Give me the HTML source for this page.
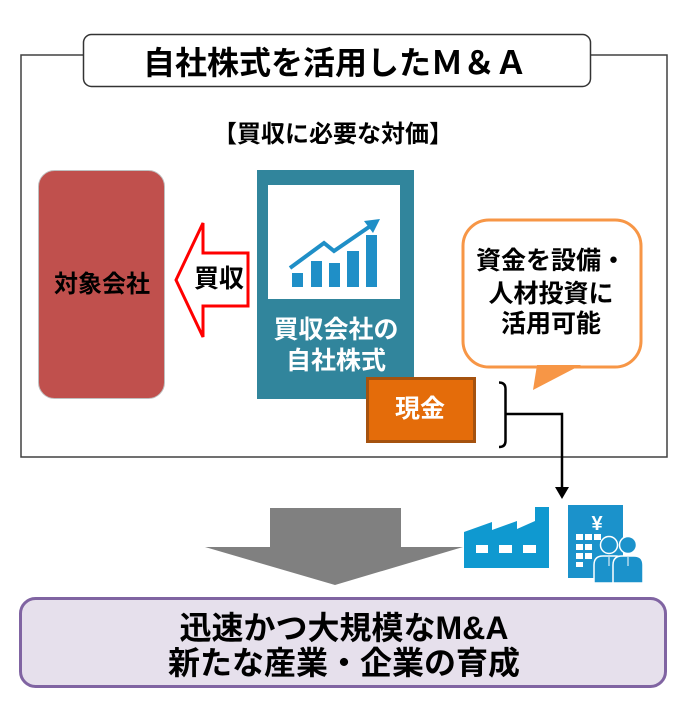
<!DOCTYPE html>
<html>
<head>
<meta charset="utf-8">
<style>
  html,body{margin:0;padding:0;background:#fff;}
  svg{display:block;}
  text{font-family:"Liberation Sans","Noto Sans CJK JP",sans-serif;font-weight:bold;}
</style>
</head>
<body>
<svg width="699" height="726" viewBox="0 0 699 726" xmlns="http://www.w3.org/2000/svg">
  <rect x="0" y="0" width="699" height="726" fill="#fff"/>

  <!-- outer frame -->
  <rect x="21" y="55" width="646" height="402" fill="none" stroke="#404040" stroke-width="1.5"/>

  <!-- title box -->
  <rect x="83.5" y="34.5" width="507" height="52" rx="8" ry="8" fill="#fff" stroke="#333" stroke-width="1.5"/>
  <text x="335" y="74" font-size="32" text-anchor="middle" fill="#000">自社株式を活用したＭ＆Ａ</text>

  <!-- subtitle -->
  <text x="333" y="142" font-size="24" text-anchor="middle" fill="#000">【買収に必要な対価】</text>

  <!-- target company -->
  <rect x="38.5" y="170.5" width="126" height="228" rx="16" ry="16" fill="#c0504d" stroke="#bfbfbf" stroke-width="1"/>
  <text x="102" y="292" font-size="24" text-anchor="middle" fill="#000">対象会社</text>

  <!-- red outlined arrow -->
  <polygon points="176,280 203,223 203,253 248,253 248,306 203,306 203,337" fill="#fff" stroke="#ff0000" stroke-width="3" stroke-linejoin="miter"/>
  <text x="219" y="287" font-size="25" text-anchor="middle" fill="#000">買収</text>

  <!-- teal acquirer box -->
  <rect x="257" y="170" width="157" height="229" fill="#31859c"/>
  <rect x="268" y="185" width="132" height="114" fill="#fff"/>
  <!-- chart icon -->
  <g fill="#1f8fc7">
    <rect x="292" y="273" width="11" height="14"/>
    <rect x="311" y="261" width="11" height="26"/>
    <rect x="329" y="263" width="11" height="24"/>
    <rect x="347" y="251" width="12" height="36"/>
    <rect x="366" y="235" width="11" height="52"/>
  </g>
  <polyline points="290,268 324,243 334,251 369,227" fill="none" stroke="#1f8fc7" stroke-width="4" stroke-linejoin="miter"/>
  <polygon points="380,219 373,233 364,221" fill="#1f8fc7"/>
  <text x="336" y="338" font-size="25" text-anchor="middle" fill="#fff">買収会社の</text>
  <text x="336" y="369" font-size="25" text-anchor="middle" fill="#fff">自社株式</text>

  <!-- cash box -->
  <rect x="367.5" y="378.5" width="107" height="63" fill="#e46c0a" stroke="#a5520f" stroke-width="3"/>
  <text x="420" y="417" font-size="25" text-anchor="middle" fill="#fff">現金</text>

  <!-- speech bubble -->
  <rect x="463" y="220" width="178" height="147" rx="26" ry="26" fill="#fff" stroke="#f79646" stroke-width="3"/>
  <polygon points="537,365 581,365 533,390" fill="#f79646"/>
  <text x="551" y="269" font-size="25" text-anchor="middle" fill="#000">資金を設備・</text>
  <text x="551" y="302" font-size="25" text-anchor="middle" fill="#000">人材投資に</text>
  <text x="551" y="332" font-size="25" text-anchor="middle" fill="#000">活用可能</text>

  <!-- bracket & connector -->
  <path d="M499,382.5 Q505.5,382.5 505.5,389 V441 Q505.5,447 499,447" fill="none" stroke="#000" stroke-width="2.5"/>
  <path d="M505.5,414 H562 V489" fill="none" stroke="#000" stroke-width="2.5"/>
  <polygon points="555,487 569,487 562,499" fill="#000"/>

  <!-- big gray arrow -->
  <polygon points="270,508 401,508 401,547 463,547 335,585 205,547 270,547" fill="#808080"/>

  <!-- factory icon -->
  <polygon points="464,568 464,532 492,522 492,530 517,521 517,529 535,521 535,507 549,507 549,568" fill="#0f99d0"/>
  <g fill="#fff">
    <rect x="476" y="545" width="12" height="8"/>
    <rect x="499" y="545" width="13" height="8"/>
    <rect x="523" y="545" width="13" height="8"/>
  </g>

  <!-- building + people icon -->
  <rect x="568" y="505" width="55" height="73" fill="#1b92cb"/>
  <text x="597" y="530" font-size="20" text-anchor="middle" fill="#fff">¥</text>
  <g fill="#fff">
    <rect x="576" y="534" width="7" height="6"/>
    <rect x="585" y="534" width="7" height="6"/>
    <rect x="594" y="534" width="7" height="6"/>
    <rect x="576" y="544" width="7" height="6"/>
    <rect x="585" y="544" width="7" height="6"/>
    <rect x="576" y="553" width="7" height="6"/>
    <rect x="585" y="553" width="7" height="6"/>
    <rect x="576" y="562" width="7" height="5"/>
  </g>
  <!-- person 1 -->
  <path d="M594,583 V565 Q594,556 603,556 H615 Q624,556 624,565 V583 Z" fill="#1b92cb" stroke="#fff" stroke-width="1.5"/>
  <circle cx="609" cy="545" r="8.5" fill="#1b92cb" stroke="#fff" stroke-width="1.5"/>
  <!-- person 2 -->
  <path d="M613,583 V565 Q613,556 622,556 H634 Q643,556 643,565 V583 Z" fill="#1b92cb" stroke="#fff" stroke-width="1.5"/>
  <circle cx="628" cy="545" r="8.5" fill="#1b92cb" stroke="#fff" stroke-width="1.5"/>
  <line x1="609" y1="557" x2="609" y2="566" stroke="#fff" stroke-width="1"/>
  <line x1="628" y1="557" x2="628" y2="566" stroke="#fff" stroke-width="1"/>

  <!-- bottom result box -->
  <rect x="20.5" y="598.5" width="645" height="88" rx="15" ry="15" fill="#e6e0ec" stroke="#8064a2" stroke-width="3"/>
  <text x="344" y="639" font-size="32" text-anchor="middle" fill="#000">迅速かつ大規模なM&amp;A</text>
  <text x="344" y="674" font-size="32" text-anchor="middle" fill="#000">新たな産業・企業の育成</text>
</svg>
</body>
</html>
